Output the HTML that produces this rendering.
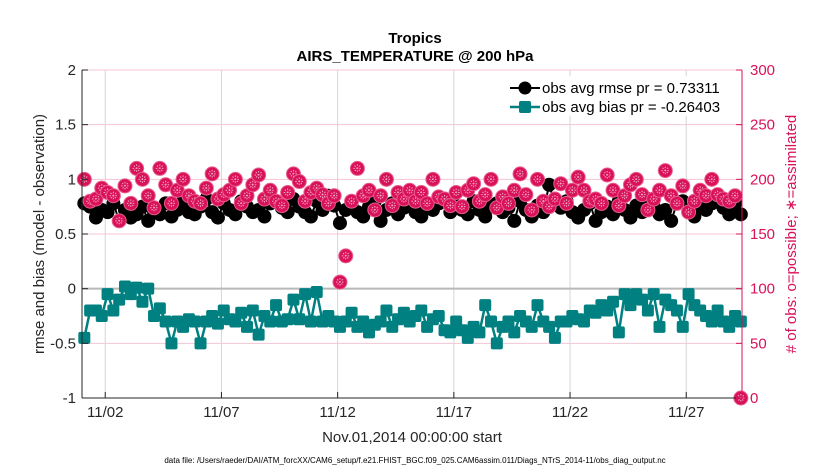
<!DOCTYPE html>
<html><head><meta charset="utf-8"><style>
body{margin:0;background:#fff;font-family:"Liberation Sans",sans-serif}
svg text{font-family:"Liberation Sans",sans-serif}
</style></head><body>
<svg id="chart" width="830" height="470" xmlns="http://www.w3.org/2000/svg">
<rect width="830" height="470" fill="#fff"/>
<g id="grid"></g>
<g id="series"></g>
<g id="axes"></g>
</svg>
<script>
const leftTicks=[-1,-0.5,0,0.5,1,1.5,2];
const rightTicks=[0,50,100,150,200,250,300];
const dateLabels=["11/02","11/07","11/12","11/17","11/22","11/27"];
const dateDays=[1,6,11,16,21,26];
const rmse=[0.78,0.75,0.65,0.72,0.7,0.78,0.62,0.72,0.65,0.68,0.75,0.62,0.7,0.68,0.78,0.66,0.72,0.8,0.7,0.68,0.75,0.82,0.7,0.65,0.78,0.72,0.68,0.8,0.75,0.7,0.72,0.66,0.78,0.8,0.74,0.7,0.82,0.75,0.7,0.66,0.8,0.72,0.85,0.76,0.6,0.72,0.78,0.7,0.66,0.75,0.8,0.62,0.72,0.78,0.68,0.74,0.8,0.7,0.66,0.75,0.72,0.78,0.8,0.7,0.76,0.72,0.68,0.8,0.72,0.66,0.75,0.78,0.7,0.74,0.62,0.8,0.72,0.66,0.76,0.7,0.95,0.78,0.74,0.8,0.7,0.65,0.72,0.78,0.62,0.7,0.75,0.68,0.8,0.72,0.65,0.76,0.7,0.82,0.75,0.68,0.72,0.62,0.78,0.8,0.7,0.66,0.75,0.72,0.78,0.8,0.74,0.68,0.78,0.68];
const bias=[-0.45,-0.2,-0.2,-0.25,-0.05,-0.2,-0.1,0.02,-0.05,0.01,-0.12,0.0,-0.25,-0.18,-0.3,-0.5,-0.3,-0.35,-0.28,-0.3,-0.5,-0.3,-0.25,-0.32,-0.2,-0.28,-0.3,-0.22,-0.35,-0.2,-0.42,-0.25,-0.3,-0.15,-0.3,-0.28,-0.1,-0.28,-0.05,-0.3,-0.03,-0.3,-0.25,-0.3,-0.35,-0.3,-0.22,-0.35,-0.3,-0.4,-0.33,-0.3,-0.2,-0.35,-0.28,-0.22,-0.3,-0.25,-0.2,-0.35,-0.28,-0.25,-0.38,-0.4,-0.3,-0.38,-0.45,-0.35,-0.4,-0.15,-0.3,-0.5,-0.35,-0.3,-0.4,-0.25,-0.3,-0.35,-0.15,-0.3,-0.35,-0.45,-0.3,-0.3,-0.25,-0.28,-0.3,-0.2,-0.22,-0.15,-0.2,-0.12,-0.4,-0.05,-0.15,-0.05,-0.1,-0.2,-0.05,-0.35,-0.1,-0.15,-0.2,-0.35,-0.05,-0.15,-0.2,-0.25,-0.3,-0.2,-0.3,-0.35,-0.25,-0.3];
const counts=[200,180,182,192,188,185,162,194,178,210,200,185,174,210,195,178,190,200,185,180,178,192,205,182,186,190,200,178,185,195,204,182,190,180,176,188,205,198,180,188,192,186,178,185,106,130,180,210,185,190,172,185,200,176,188,182,190,180,188,178,200,184,182,176,188,175,190,196,180,186,200,174,184,178,190,205,186,172,200,180,175,182,196,178,190,202,190,180,182,178,204,190,176,185,195,200,186,172,182,190,208,185,178,194,170,180,190,185,200,186,182,180,185,0];
const X0=82,X1=742,Y0=70,Y1=398,DAYPX=23.24;
const xs=i=>X0+(0.1+0.25*i)*DAYPX;
const xd=d=>X0+d*DAYPX;
const yl=v=>Y1-(v+1)/3*(Y1-Y0);
const yr=v=>Y1-v/300*(Y1-Y0);
const NS="http://www.w3.org/2000/svg";
function mk(p,t,a){const e=document.createElementNS(NS,t);for(const k in a)e.setAttribute(k,a[k]);p.appendChild(e);return e;}
const grid=document.getElementById('grid'),ser=document.getElementById('series'),ax=document.getElementById('axes');
rightTicks.forEach(v=>{const l=mk(grid,'line',{x1:X0,x2:X1,y1:yr(v),y2:yr(v),stroke:'#f3c6d6','stroke-width':1});

});
dateDays.forEach(d=>{const l=mk(grid,'line',{x1:xd(d),x2:xd(d),y1:Y0,y2:Y1,stroke:'#d6d6d6','stroke-width':1});

});
const zl=mk(grid,'line',{x1:X0,x2:X1,y1:yl(0),y2:yl(0),stroke:'#b8b8b8','stroke-width':2});


// rmse line
const rl=mk(ser,'polyline',{points:rmse.map((v,i)=>xs(i)+','+yl(v)).join(' '),fill:'none',stroke:'#000','stroke-width':2});


rmse.forEach((v,i)=>{const c=mk(ser,'circle',{cx:xs(i),cy:yl(v),r:7,fill:'#000'});

});
// counts
counts.forEach((v,i)=>{const g=mk(ser,'g',{});


const cx=xs(i),cy=yr(v);
mk(g,'circle',{cx:cx,cy:cy,r:7,fill:'#d81159',stroke:'#e85b8a','stroke-width':1});
for(let k=0;k<4;k++){const a=k*Math.PI/4;mk(g,'line',{x1:cx-4*Math.cos(a),y1:cy-4*Math.sin(a),x2:cx+4*Math.cos(a),y2:cy+4*Math.sin(a),stroke:'#f3a7c2','stroke-width':1,'stroke-dasharray':'1.5,1.5'});}});
// bias
const bl=mk(ser,'polyline',{points:bias.map((v,i)=>xs(i)+','+yl(v)).join(' '),fill:'none',stroke:'#008080','stroke-width':2.5});


bias.forEach((v,i)=>{const r=mk(ser,'rect',{x:xs(i)-6,y:yl(v)-6,width:12,height:12,rx:2,fill:'#008080'});

});
// axes
mk(ax,'line',{x1:X0,x2:X0,y1:Y0,y2:Y1,stroke:'#262626','stroke-width':1});
mk(ax,'line',{x1:X0,x2:X1,y1:Y1,y2:Y1,stroke:'#262626','stroke-width':1});
mk(ax,'line',{x1:X1,x2:X1,y1:Y0,y2:Y1,stroke:'#d81159','stroke-width':1});
leftTicks.forEach(v=>{mk(ax,'line',{x1:X0,x2:X0+6,y1:yl(v),y2:yl(v),stroke:'#262626'});
const t=mk(ax,'text',{x:X0-6,y:yl(v)+5,'text-anchor':'end','font-size':15,fill:'#262626'});t.textContent=String(v);

});
rightTicks.forEach(v=>{mk(ax,'line',{x1:X1-6,x2:X1,y1:yr(v),y2:yr(v),stroke:'#d81159'});
const t=mk(ax,'text',{x:X1+8,y:yr(v)+5,'font-size':15,fill:'#d81159'});t.textContent=String(v);

});
dateDays.forEach((d,i)=>{mk(ax,'line',{x1:xd(d),x2:xd(d),y1:Y1,y2:Y1-6,stroke:'#262626'});
const t=mk(ax,'text',{x:xd(d),y:417,'text-anchor':'middle','font-size':15,fill:'#262626'});t.textContent=dateLabels[i];

});
</script>
<svg style="position:absolute;left:0;top:0" width="830" height="470" xmlns="http://www.w3.org/2000/svg">
<text x="415" y="43" text-anchor="middle" font-size="15" font-weight="bold" fill="#000">Tropics</text>
<text x="415" y="61" text-anchor="middle" font-size="15" font-weight="bold" fill="#000">AIRS_TEMPERATURE @ 200 hPa</text>
<text x="412" y="442" text-anchor="middle" font-size="15" fill="#262626">Nov.01,2014 00:00:00 start</text>
<text transform="translate(44,234) rotate(-90)" text-anchor="middle" font-size="15" fill="#262626">rmse and bias (model - observation)</text>
<text transform="translate(796,234) rotate(-90)" text-anchor="middle" font-size="15" fill="#d81159"># of obs: o=possible; ∗=assimilated</text>
<text x="415" y="463" text-anchor="middle" font-size="8" fill="#000">data file: /Users/raeder/DAI/ATM_forcXX/CAM6_setup/f.e21.FHIST_BGC.f09_025.CAM6assim.011/Diags_NTrS_2014-11/obs_diag_output.nc</text>
<g>
<rect x="506" y="76" width="234" height="40" fill="#fff"/>
<line x1="510" x2="540" y1="88" y2="88" stroke="#000" stroke-width="2"/>
<circle cx="525" cy="88" r="6.5" fill="#000"/>
<text x="542" y="93" font-size="15" fill="#000">obs avg rmse pr = 0.73311</text>
<line x1="510" x2="540" y1="107" y2="107" stroke="#008080" stroke-width="2.5"/>
<rect x="519" y="101" width="12" height="12" rx="2" fill="#008080"/>
<text x="542" y="112" font-size="15" fill="#000">obs avg bias pr = -0.26403</text>
</g>
</svg>
</body></html>
